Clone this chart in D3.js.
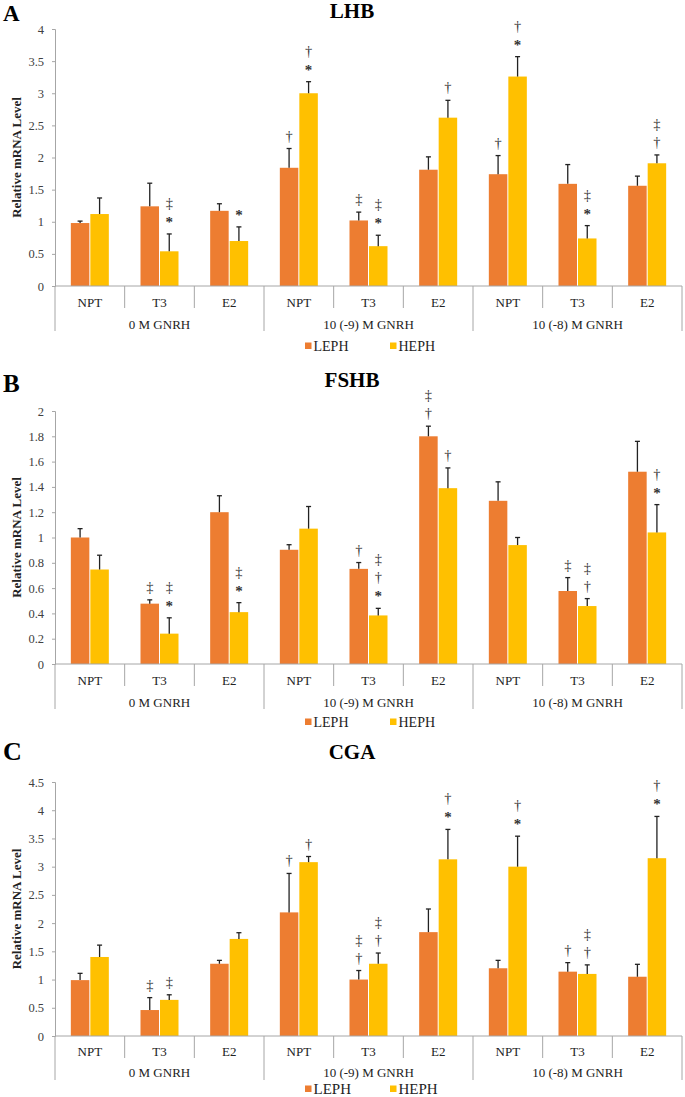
<!DOCTYPE html>
<html><head><meta charset="utf-8">
<script src="https://cdn.jsdelivr.net/npm/d3@7"></script>
<style>body{margin:0;background:#fff}svg{display:block}</style>
</head><body>
<svg id="chart" width="685" height="1097"></svg>
<script>
// ---- data ----
const categories = ["NPT","T3","E2","NPT","T3","E2","NPT","T3","E2"];
const groups = ["0 M GNRH","10 (-9) M GNRH","10 (-8) M GNRH"];
const seriesNames = ["LEPH","HEPH"];

const lhbLeph    = [0.98,1.24,1.17,1.84,1.02,1.81,1.74,1.59,1.56];
const lhbLephErr = [0.03,0.36,0.11,0.30,0.13,0.20,0.29,0.30,0.15];
const lhbHeph    = [1.12,0.54,0.70,3.00,0.62,2.62,3.26,0.74,1.91];
const lhbHephErr = [0.25,0.27,0.22,0.18,0.17,0.27,0.31,0.20,0.13];
const lhbLephAnn = ["","","","†","‡","","†","",""];
const lhbHephAnn = ["","‡*","*","†*","‡*","†","†*","‡*","‡†"];
const lhbTicks = [0,0.5,1,1.5,2,2.5,3,3.5,4];

const fshbLeph    = [1.00,0.477,1.20,0.903,0.752,1.80,1.29,0.577,1.52];
const fshbLephErr = [0.07,0.03,0.13,0.04,0.05,0.08,0.15,0.106,0.24];
const fshbHeph    = [0.747,0.24,0.41,1.07,0.384,1.39,0.94,0.458,1.04];
const fshbHephErr = [0.113,0.125,0.075,0.175,0.056,0.16,0.06,0.059,0.22];
const fshbLephAnn = ["","‡","","","†","‡†","","‡",""];
const fshbHephAnn = ["","‡*","‡*","","‡†*","†","","‡†","†*"];
const fshbTicks = [0,0.2,0.4,0.6,0.8,1,1.2,1.4,1.6,1.8,2];

const cgaLeph    = [0.99,0.46,1.28,2.19,1.00,1.84,1.20,1.14,1.05];
const cgaLephErr = [0.12,0.22,0.06,0.69,0.16,0.41,0.14,0.16,0.22];
const cgaHeph    = [1.40,0.64,1.72,3.08,1.28,3.13,3.00,1.10,3.15];
const cgaHephErr = [0.21,0.09,0.11,0.10,0.19,0.53,0.54,0.16,0.74];
const cgaLephAnn = ["","‡","","†","‡†","","","†",""];
const cgaHephAnn = ["","‡","","†","‡†","†*","†*","‡†","†*"];
const cgaTicks = [0,0.5,1,1.5,2,2.5,3,3.5,4,4.5];

const colors = ["#ED7D31","#FFC000"];
const serif = "'Liberation Serif','Times New Roman',serif";

const svg = d3.select("#chart");

function fmt(v){ return String(+v.toFixed(2)); }

function drawPanel(p){
  const g = svg.append("g");
  const x0 = 55, x1 = 682;
  const y = d3.scaleLinear().domain([0, p.max]).range([p.bottom, p.top]);
  const x = d3.scaleBand().domain(d3.range(categories.length)).range([x0, x1]).padding(0);
  const inner = d3.scaleBand().domain([0,1]).range([0, 39]).padding(0);
  const off = (x.bandwidth() - 39) / 2;

  // panel letter & title
  g.append("text").attr("x", 3).attr("y", p.letterY).attr("font-family", serif)
    .attr("font-weight","bold").attr("font-size", p.letterSize).attr("fill","#000").text(p.letter);
  g.append("text").attr("x", 352).attr("y", p.titleY).attr("text-anchor","middle").attr("font-family", serif)
    .attr("font-weight","bold").attr("font-size", 21).attr("fill","#000").text(p.title);

  // y axis
  const yAxis = d3.axisLeft(y).tickValues(p.ticks).tickSize(3).tickPadding(8).tickFormat(fmt);
  const ya = g.append("g").attr("transform", `translate(${x0},0)`).call(yAxis);
  ya.select(".domain").attr("stroke","#a6a6a6");
  ya.selectAll(".tick line").attr("stroke","#a6a6a6");
  ya.selectAll(".tick text").attr("font-family", serif).attr("font-size", 12.5).attr("fill","#404040");

  // y label
  g.append("text").attr("transform", `translate(21,${(p.top+p.bottom)/2}) rotate(-90)`)
    .attr("text-anchor","middle").attr("font-family", serif).attr("font-weight","bold")
    .attr("font-size", 13).attr("fill","#222").text("Relative mRNA Level");

  // bars
  const data = [];
  categories.forEach((c,i)=>{
    [0,1].forEach(s=>{
      data.push({i, s, v: p.vals[s][i], e: p.errs[s][i], ann: p.anns[s][i]});
    });
  });
  const bx = d => x(d.i) + off + inner(d.s);
  const bw = inner.bandwidth();
  g.selectAll("rect.bar").data(data).join("rect").attr("class","bar")
    .attr("x", d => bx(d) + 0.5).attr("width", bw - 1)
    .attr("y", d => y(d.v)).attr("height", d => y(0) - y(d.v))
    .attr("fill", d => colors[d.s]);

  // error bars (upward only)
  const eg = g.selectAll("g.err").data(data).join("g").attr("class","err");
  eg.append("line").attr("x1", d => bx(d)+bw/2).attr("x2", d => bx(d)+bw/2)
    .attr("y1", d => y(d.v)).attr("y2", d => y(d.v+d.e)).attr("stroke","#222").attr("stroke-width",1.3);
  eg.append("line").attr("x1", d => bx(d)+bw/2-2.5).attr("x2", d => bx(d)+bw/2+2.5)
    .attr("y1", d => y(d.v+d.e)).attr("y2", d => y(d.v+d.e)).attr("stroke","#222").attr("stroke-width",1.3);

  // annotations
  data.forEach(d=>{
    const syms = d.ann.split("").reverse();
    syms.forEach((ch,k)=>{
      const cy = y(d.v+d.e) - 13 - k*18;
      g.append("text").attr("x", bx(d)+bw/2).attr("y", cy + (ch==="*"?6:5))
        .attr("text-anchor","middle").attr("font-family", serif)
        .attr("font-weight", ch==="*" ? "bold" : "normal")
        .attr("font-size", ch==="*" ? 15 : 14.5).attr("fill","#333").text(ch);
    });
  });

  // x axis line
  g.append("line").attr("x1", x0).attr("x2", x1).attr("y1", y(0)).attr("y2", y(0))
    .attr("stroke","#a6a6a6").attr("stroke-width",1);
  // separators
  for(let k=0;k<=categories.length;k++){
    const xx = x0 + k*x.bandwidth();
    const long = k % 3 === 0;
    g.append("line").attr("x1", xx).attr("x2", xx).attr("y1", y(0)).attr("y2", y(0) + (long?p.longSep:22))
      .attr("stroke","#a6a6a6").attr("stroke-width",1);
  }
  // category labels
  g.selectAll("text.cat").data(categories).join("text").attr("class","cat")
    .attr("x", (d,i) => x(i) + x.bandwidth()/2).attr("y", y(0) + p.catDy)
    .attr("text-anchor","middle").attr("font-family", serif).attr("font-size", 13).attr("fill","#222").text(d=>d);
  g.selectAll("text.grp").data(groups).join("text").attr("class","grp")
    .attr("x", (d,i) => x(i*3) + x.bandwidth()*1.5).attr("y", y(0) + p.grpDy)
    .attr("text-anchor","middle").attr("font-family", serif).attr("font-size", 13).attr("fill","#222").text(d=>d);

  // legend
  const lx = [305, 390];
  seriesNames.forEach((n,s)=>{
    g.append("rect").attr("x", lx[s]).attr("y", p.legendY-3.5).attr("width",6.5).attr("height",6.5).attr("fill", colors[s]);
    g.append("text").attr("x", lx[s]+8.5).attr("y", p.legendY+5).attr("font-family", serif)
      .attr("font-size", p.legendSize).attr("fill","#222").text(n);
  });
}

drawPanel({letter:"A", letterY:21, letterSize:23, title:"LHB", titleY:18, top:29, bottom:286, max:4,
  ticks:lhbTicks, vals:[lhbLeph,lhbHeph], errs:[lhbLephErr,lhbHephErr], anns:[lhbLephAnn,lhbHephAnn],
  legendY:346, legendSize:14, catDy:21, grpDy:43, longSep:45});
drawPanel({letter:"B", letterY:392, letterSize:25, title:"FSHB", titleY:387, top:411, bottom:664, max:2,
  ticks:fshbTicks, vals:[fshbLeph,fshbHeph], errs:[fshbLephErr,fshbHephErr], anns:[fshbLephAnn,fshbHephAnn],
  legendY:722, legendSize:14, catDy:21, grpDy:43, longSep:45});
drawPanel({letter:"C", letterY:760, letterSize:26, title:"CGA", titleY:759, top:782, bottom:1036, max:4.5,
  ticks:cgaTicks, vals:[cgaLeph,cgaHeph], errs:[cgaLephErr,cgaHephErr], anns:[cgaLephAnn,cgaHephAnn],
  legendY:1089, legendSize:15, catDy:20, grpDy:41, longSep:44});
</script>
</body></html>
